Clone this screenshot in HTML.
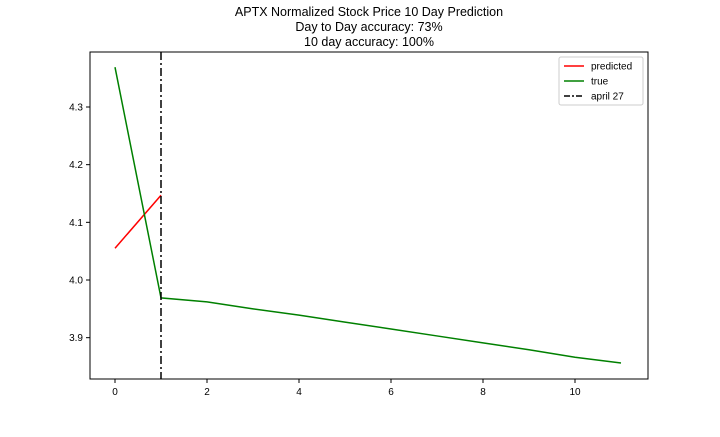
<!DOCTYPE html>
<html><head><meta charset="utf-8"><style>
body{margin:0;background:#fff;}
svg text{font-family:"Liberation Sans",sans-serif;fill:#000;}
</style></head><body>
<svg id="chart" width="720" height="432" xmlns="http://www.w3.org/2000/svg">
<g>
<text x="369" y="16" text-anchor="middle" font-size="12.5">APTX Normalized Stock Price 10 Day Prediction</text>
<text x="369" y="31" text-anchor="middle" font-size="12.5">Day to Day accuracy: 73%</text>
<text x="369" y="46" text-anchor="middle" font-size="12.5">10 day accuracy: 100%</text>
</g>
<g id="plot"></g>
</svg>
<script>
const xTicks=[0,2,4,6,8,10];
const yTicks=[3.9,4.0,4.1,4.2,4.3];
const trueX=[0,1,2,3,4,5,6,7,8,9,10,11];
const trueY=[4.369,3.969,3.962,3.950,3.939,3.927,3.915,3.903,3.891,3.879,3.866,3.856];
const predX=[0,1];
const predY=[4.055,4.147];
const vlineX=1;
const L=90,R=648,T=52,B=379;
const sx=v=>115+v*46;
const sy=v=>280-(v-4.0)*576.7;
const NS='http://www.w3.org/2000/svg';
const g=document.getElementById('plot');
function mk(t,a){const e=document.createElementNS(NS,t);for(const k in a)e.setAttribute(k,a[k]);g.appendChild(e);return e;}
xTicks.forEach(v=>{
 const l=mk('line',{x1:sx(v),x2:sx(v),y1:B,y2:B+4,stroke:'#000'});
 
 
 const t=mk('text',{x:sx(v),y:B+16,'text-anchor':'middle','font-size':'10'});
 t.textContent=v;
 
 
});
yTicks.forEach(v=>{
 const l=mk('line',{x1:L-4,x2:L,y1:sy(v),y2:sy(v),stroke:'#000'});
 
 
 const t=mk('text',{x:L-7,y:sy(v)+3.5,'text-anchor':'end','font-size':'10'});
 t.textContent=v.toFixed(1);
 
 
});
function line(xs,ys,c,name){
 const p=mk('polyline',{points:xs.map((x,i)=>sx(x)+','+sy(ys[i])).join(' '),fill:'none',stroke:c,'stroke-width':1.5});
 
 
}
line(predX,predY,'#ff0000','predicted-line');
line(trueX,trueY,'#008000','true-line');
const vl=mk('line',{x1:sx(vlineX),x2:sx(vlineX),y1:T,y2:B,stroke:'#000','stroke-width':1.5,'stroke-dasharray':'8,3,2,3'});


const fr=mk('rect',{x:L,y:T,width:R-L,height:B-T,fill:'none',stroke:'#000','stroke-width':1});


// legend
const lg=mk('rect',{x:559,y:57,width:84,height:48,fill:'#fff',stroke:'#ccc',rx:2});


[['predicted','#ff0000',null],['true','#008000',null],['april 27','#000','6,2,2,2']].forEach((e,i)=>{
 const y=66+i*15;
 const a={x1:564,x2:584,y1:y,y2:y,stroke:e[1],'stroke-width':1.5};
 if(e[2])a['stroke-dasharray']=e[2];
 const l=mk('line',a);
 
 
 const t=mk('text',{x:591,y:y+3.5,'font-size':'10'});
 t.textContent=e[0];
 
 
});
</script>
</body></html>
